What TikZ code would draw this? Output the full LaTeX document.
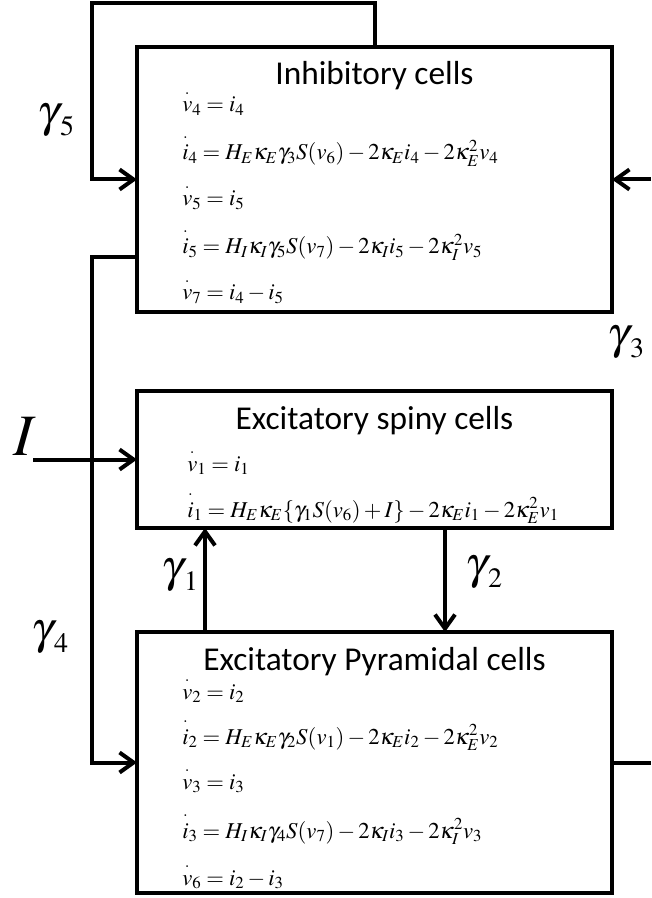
\documentclass[tikz,border=0pt]{standalone}
\usepackage{amsmath}
\usepackage{mathptmx}
\usepackage[no-math]{fontspec}
\setmainfont{Carlito}
\usetikzlibrary{arrows.meta,calc}
\newcommand{\hdot}[1]{\overset{\raisebox{2pt}{$\scriptstyle.$}}{#1}}
\newcommand{\glab}[1]{{\fontsize{34}{40}\selectfont$\gamma$}\raisebox{-7pt}{\fontsize{21}{24}\selectfont$#1$}}
\tikzset{
  box/.style={draw, line width=3pt, inner sep=0pt, outer sep=0pt, minimum width=356.25pt},
  conn/.style={line width=3pt},
  arr/.style={conn, -{Straight Barb[length=10.5pt,width=15pt]}},
  ttl/.style={font=\fontsize{25}{30}\selectfont, anchor=base, inner sep=0pt},
  eq/.style={font=\fontsize{17}{20}\selectfont, anchor=base west, inner sep=0pt},
  lab/.style={inner sep=0pt}
}
\begin{document}
\begin{tikzpicture}[x=0.75pt,y=-0.75pt]
\useasboundingbox (0,0) rectangle (651,898);

% boxes
\node[box, minimum height=198.75pt] (inh) at (374.5,179.5) {};
\node[box, minimum height=102.75pt] (spn) at (374.5,459.5) {};
\node[box, minimum height=195.75pt] (pyr) at (374.5,762.5) {};

% titles
\node[ttl] (tinh) at (374.5,85) {Inhibitory cells};
\node[ttl] (tspn) at (374.5,429) {Excitatory spiny cells};
\node[ttl] (tpyr) at (374.5,670) {Excitatory Pyramidal cells};

% inhibitory equations
\node[eq] (e1) at (182,112) {$\hdot{v}_4 = i_4$};
\node[eq] (e2) at (182,160) {$\hdot{i}_4 = H_E\kappa_E\gamma_3 S(v_6) - 2\kappa_E i_4 - 2\kappa_E^2 v_4$};
\node[eq] (e3) at (182,206) {$\hdot{v}_5 = i_5$};
\node[eq] (e4) at (182,254) {$\hdot{i}_5 = H_I\kappa_I\gamma_5 S(v_7) - 2\kappa_I i_5 - 2\kappa_I^2 v_5$};
\node[eq] (e5) at (182,300) {$\hdot{v}_7 = i_4 - i_5$};

% spiny equations
\node[eq] (s1) at (187,471) {$\hdot{v}_1 = i_1$};
\node[eq] (s2) at (187,517) {$\hdot{i}_1 = H_E\kappa_E\{\gamma_1 S(v_6) + I\} - 2\kappa_E i_1 - 2\kappa_E^2 v_1$};

% pyramidal equations
\node[eq] (p1) at (182,699) {$\hdot{v}_2 = i_2$};
\node[eq] (p2) at (182,744) {$\hdot{i}_2 = H_E\kappa_E\gamma_2 S(v_1) - 2\kappa_E i_2 - 2\kappa_E^2 v_2$};
\node[eq] (p3) at (182,789) {$\hdot{v}_3 = i_3$};
\node[eq] (p4) at (182,838) {$\hdot{i}_3 = H_I\kappa_I\gamma_4 S(v_7) - 2\kappa_I i_3 - 2\kappa_I^2 v_3$};
\node[eq] (p5) at (182,885) {$\hdot{v}_6 = i_2 - i_3$};

% labels
\node[lab] (g5) at (56,120) {\glab{5}};
\node[lab] (g3) at (626,342) {\glab{3}};
\node[lab] (g1) at (180,575) {\glab{1}};
\node[lab] (g2) at (484,572) {\glab{2}};
\node[lab] (g4) at (50,637) {\glab{4}};
\node[lab] (Ilab) at (25,436) {\fontsize{44}{50}\selectfont$I$};

% coordinates
\coordinate (lpT) at (375,3);
\coordinate (lpL) at (92,3);
\coordinate (ll) at (92,257);
\coordinate (rin) at (651,179.5);
\coordinate (rout) at (651,762.5);
\coordinate (Iin) at (33,459.5);
\coordinate (g1x) at (205,0);
\coordinate (g2x) at (445,0);

% connectors
\draw[arr] (inh.north -| lpT) -- (lpT) -- (lpL) |- (inh.west);
\draw[arr] (rin) -- (inh.east);
\draw[arr] (inh.west |- ll) -- (ll) |- (pyr.west);
\draw[arr] (Iin) -- (spn.west);
\draw[arr] (pyr.north -| g1x) -- (spn.south -| g1x);
\draw[arr] (spn.south -| g2x) -- (pyr.north -| g2x);
\draw[conn] (pyr.east) -- (rout);
\end{tikzpicture}
\end{document}
